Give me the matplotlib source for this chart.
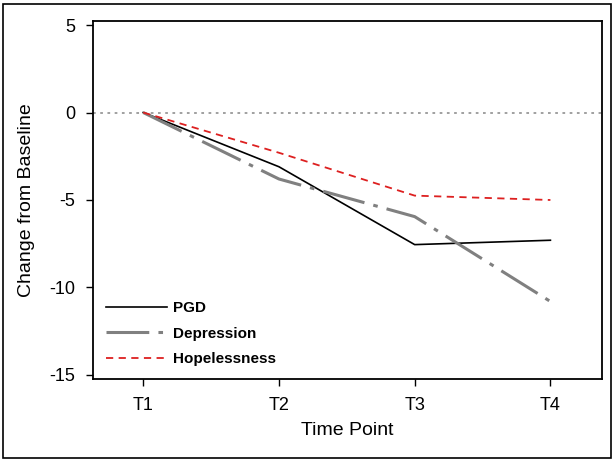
import matplotlib
matplotlib.use("Agg")
import matplotlib.pyplot as plt
from matplotlib.patches import Rectangle

# data
time_points = ["T1", "T2", "T3", "T4"]
pgd = [0, -3.1, -7.55, -7.3]
depression = [0, -3.8, -5.95, -10.8]
hopelessness = [0, -2.3, -4.75, -5.0]

plt.rcParams['font.family'] = ['Liberation Sans', 'DejaVu Sans']

fig = plt.figure(figsize=(6.15, 4.62), dpi=100)
ax = fig.add_axes([93/615, 1 - 379/462, (602-93)/615, (379-21)/462])

x = range(len(time_points))
ax.axhline(0, color='#999999', linestyle=(0, (1.5, 2.5)), linewidth=1.3)
ax.plot(x, pgd, color='black', linewidth=1.2, label='PGD')
ax.plot(x, depression, color='#808080', linewidth=2.2,
        linestyle=(0, (14, 3, 1.5, 3)), label='Depression')
ax.plot(x, hopelessness, color='#dd2020', linewidth=1.3,
        linestyle=(0, (4, 3)), label='Hopelessness')

ax.set_xlim(-0.37, 3.38)
ax.set_ylim(-15.23, 5.23)
ax.set_xticks(list(x))
ax.set_xticklabels(time_points)
ax.set_yticks([5, 0, -5, -10, -15])
ax.set_yticklabels(['5', '0', '-5', '-10', '-15'])
ax.tick_params(labelsize=13, length=5, width=1, direction='out', pad=8)
for s in ax.spines.values():
    s.set_linewidth(1.3)

ax.set_xlabel('Time Point', fontsize=14, labelpad=6)
ax.set_ylabel('Change from Baseline', fontsize=14, labelpad=10)

leg = ax.legend(loc='lower left', frameon=False,
                handlelength=4.0, handletextpad=0.4, labelspacing=0.75,
                borderaxespad=0.45, prop={'weight': 'bold', 'size': 11})

# outer frame around whole picture
fig.patches.append(Rectangle((3/615, 4/462), 608/615, 454/462,
                             transform=fig.transFigure, fill=False,
                             edgecolor='black', linewidth=1.2))

fig.savefig("out.png", dpi=100)
